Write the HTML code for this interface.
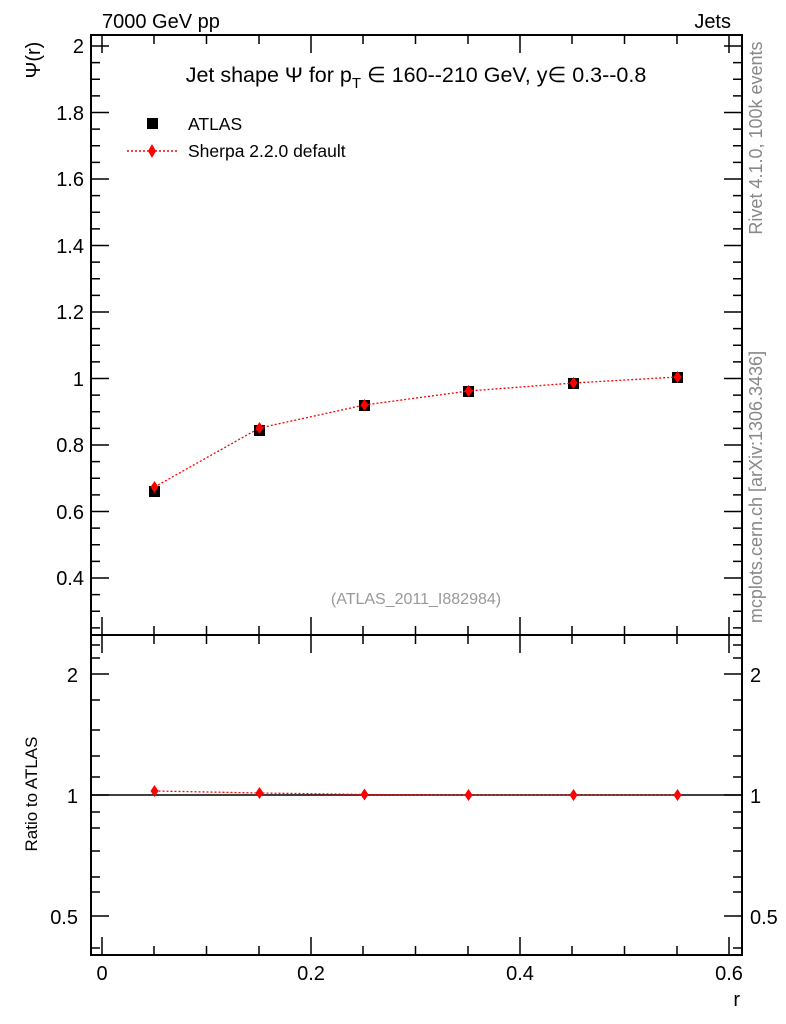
<!DOCTYPE html>
<html><head><meta charset="utf-8"><style>body{margin:0;background:#fff}svg{display:block}text{font-family:"Liberation Sans",sans-serif}</style></head><body>
<svg width="786" height="1024" viewBox="0 0 786 1024" xmlns="http://www.w3.org/2000/svg">
<g fill="none" stroke="#000" stroke-width="2">
<rect x="91" y="35" width="651" height="600"/>
<rect x="91" y="635" width="651" height="320"/>
</g>
<g stroke="#000" stroke-width="1.5">
<path d="M91 46h18M91 112.5h18M91 179h18M91 245.5h18M91 312h18M91 378.5h18M91 445h18M91 511.5h18M91 578h18
M742 46h-18M742 112.5h-18M742 179h-18M742 245.5h-18M742 312h-18M742 378.5h-18M742 445h-18M742 511.5h-18M742 578h-18"/>
<path d="M91 62.6h9M91 79.2h9M91 95.9h9M91 129.1h9M91 145.7h9M91 162.4h9M91 195.6h9M91 212.2h9M91 228.9h9M91 262.1h9M91 278.7h9M91 295.4h9M91 328.6h9M91 345.2h9M91 361.9h9M91 395.1h9M91 411.7h9M91 428.4h9M91 461.6h9M91 478.2h9M91 494.9h9M91 528.1h9M91 544.7h9M91 561.4h9M91 594.6h9M91 611.2h9M91 627.9h9
M742 62.6h-9M742 79.2h-9M742 95.9h-9M742 129.1h-9M742 145.7h-9M742 162.4h-9M742 195.6h-9M742 212.2h-9M742 228.9h-9M742 262.1h-9M742 278.7h-9M742 295.4h-9M742 328.6h-9M742 345.2h-9M742 361.9h-9M742 395.1h-9M742 411.7h-9M742 428.4h-9M742 461.6h-9M742 478.2h-9M742 494.9h-9M742 528.1h-9M742 544.7h-9M742 561.4h-9M742 594.6h-9M742 611.2h-9M742 627.9h-9"/>
<path d="M102 635v-18M311 635v-18M520 635v-18M729 635v-18M154 635v-9M206.5 635v-9M259 635v-9M363 635v-9M415.5 635v-9M468 635v-9M572 635v-9M624.5 635v-9M677 635v-9
M102 35v18M311 35v18M520 35v18M729 35v18M154 35v9M206.5 35v9M259 35v9M363 35v9M415.5 35v9M468 35v9M572 35v9M624.5 35v9M677 35v9"/>
<path d="M102 955v-18M311 955v-18M520 955v-18M729 955v-18M154 955v-9M206.5 955v-9M259 955v-9M363 955v-9M415.5 955v-9M468 955v-9M572 955v-9M624.5 955v-9M677 955v-9
M102 635v18M311 635v18M520 635v18M729 635v18M154 635v9M206.5 635v9M259 635v9M363 635v9M415.5 635v9M468 635v9M572 635v9M624.5 635v9M677 635v9"/>
<path d="M91 674h18M91 795h18M91 916h18M742 674h-18M742 795h-18M742 916h-18"/>
<path d="M91 645h9M91 658h9M91 700h9M91 730h9M91 756h9M91 777h9M91 812h9M91 828h9M91 851h9M91 877h9M91 892h9M91 948h9
M742 645h-9M742 658h-9M742 700h-9M742 730h-9M742 756h-9M742 777h-9M742 812h-9M742 828h-9M742 851h-9M742 877h-9M742 892h-9M742 948h-9"/>
<path d="M91 795H742" stroke-width="1.5"/>
</g>
<g font-size="20" fill="#000" text-anchor="end">
<text x="84" y="53">2</text><text x="84" y="120">1.8</text><text x="84" y="186">1.6</text><text x="84" y="253">1.4</text><text x="84" y="319">1.2</text><text x="84" y="386">1</text><text x="84" y="452">0.8</text><text x="84" y="519">0.6</text><text x="84" y="585">0.4</text>
<text x="78" y="682">2</text><text x="78" y="803">1</text><text x="78" y="924">0.5</text>
</g>
<g font-size="20" fill="#000" text-anchor="start">
<text x="750" y="682">2</text><text x="750" y="803">1</text><text x="750" y="924">0.5</text>
</g>
<g font-size="20" fill="#000" text-anchor="middle">
<text x="102" y="980">0</text><text x="311" y="980">0.2</text><text x="520" y="980">0.4</text><text x="729" y="980">0.6</text>
</g>
<text x="740" y="1006" font-size="20" text-anchor="end">r</text>
<text x="102" y="28" font-size="20">7000 GeV pp</text>
<text x="731" y="28" font-size="20" text-anchor="end">Jets</text>
<text x="40" y="60" font-size="20" text-anchor="middle" transform="rotate(-90 40 60)">Ψ(r)</text>
<text x="416" y="82" font-size="21.5" text-anchor="middle">Jet shape Ψ for p<tspan font-size="15" dy="6">T</tspan><tspan dy="-6"> ∈ 160--210 GeV, y∈ 0.3--0.8</tspan></text>
<text x="416" y="604" font-size="16" fill="#999" text-anchor="middle">(ATLAS_2011_I882984)</text>
<text x="37" y="794" font-size="17" text-anchor="middle" transform="rotate(-90 37 794)">Ratio to ATLAS</text>
<text x="762" y="138" font-size="18" fill="#888" text-anchor="middle" transform="rotate(-90 762 138)">Rivet 4.1.0,  100k events</text>
<text x="762" y="487" font-size="18" fill="#888" text-anchor="middle" transform="rotate(-90 762 487)">mcplots.cern.ch [arXiv:1306.3436]</text>
<rect x="147" y="118" width="11" height="11" fill="#000"/>
<text x="188" y="130" font-size="17.5">ATLAS</text>
<path d="M127 151h50" stroke="red" stroke-dasharray="2,2" stroke-width="1.5"/>
<path d="M152 144l4 7l-4 7l-4-7z" fill="red"/>
<text x="188" y="157" font-size="17.5">Sherpa 2.2.0 default</text>
<g fill="#000">
<rect x="149" y="486" width="11" height="11"/><rect x="254" y="425" width="11" height="11"/><rect x="359" y="400" width="11" height="11"/><rect x="463" y="386" width="11" height="11"/><rect x="568" y="378" width="11" height="11"/><rect x="672" y="372" width="11" height="11"/>
</g>
<path d="M154.5 487L259.5 428L364.5 405L468.5 391L573.5 383L677.5 377" fill="none" stroke="red" stroke-width="1.3" stroke-dasharray="2,2"/>
<g fill="red">
<path d="M154.5 481l4 6l-4 6l-4-6z"/><path d="M259.5 422l4 6l-4 6l-4-6z"/><path d="M364.5 399l4 6l-4 6l-4-6z"/><path d="M468.5 385l4 6l-4 6l-4-6z"/><path d="M573.5 377l4 6l-4 6l-4-6z"/><path d="M677.5 371l4 6l-4 6l-4-6z"/>
</g>
<path d="M154.5 791L259.5 793L364.5 794.5L468.5 795L573.5 795L677.5 795" fill="none" stroke="red" stroke-width="1.3" stroke-dasharray="2,2"/>
<g fill="red">
<path d="M154.5 785l4 6l-4 6l-4-6z"/><path d="M259.5 787l4 6l-4 6l-4-6z"/><path d="M364.5 788.5l4 6l-4 6l-4-6z"/><path d="M468.5 789l4 6l-4 6l-4-6z"/><path d="M573.5 789l4 6l-4 6l-4-6z"/><path d="M677.5 789l4 6l-4 6l-4-6z"/>
</g>
</svg>
</body></html>
